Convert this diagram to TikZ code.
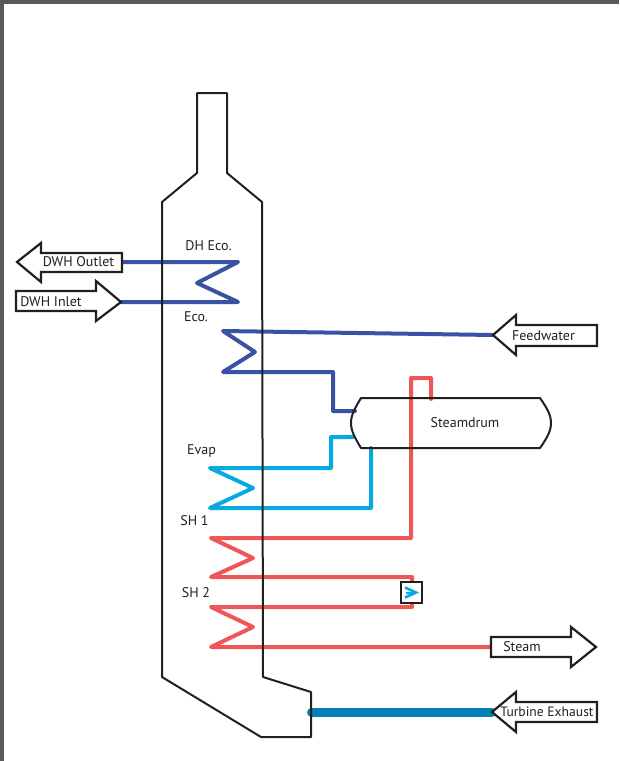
\documentclass[tikz,border=0pt]{standalone}
\usepackage{fontspec}
\setmainfont{PT Sans}
\definecolor{inkk}{HTML}{231F20}
\definecolor{frameg}{HTML}{58595B}
\definecolor{coilblue}{HTML}{3953A4}
\definecolor{coilcyan}{HTML}{06A9E2}
\definecolor{coilred}{HTML}{EF5656}
\definecolor{exhaust}{HTML}{0580B5}
\tikzset{
  shell/.style={draw=inkk,line width=2pt,line join=round,line cap=round},
  port/.style={draw=inkk,fill=white,line width=2.2pt,line join=miter},
  pipe/.style={line width=4pt,line join=round,line cap=round},
  bluepipe/.style={pipe,draw=coilblue},
  cyanpipe/.style={pipe,draw=coilcyan},
  redpipe/.style={pipe,draw=coilred},
  lbl/.style={inner sep=0pt,text=inkk,font=\fontsize{14}{16}\selectfont}
}
\begin{document}
\begin{tikzpicture}[x=1pt,y=-1pt]
\useasboundingbox (0,0) rectangle (619,761);
\fill[frameg] (0,0) rectangle (619,4);
\fill[frameg] (0,0) rectangle (3.6,761);
% connector ends
\coordinate (outletEnd) at (122,262);
\coordinate (inletEnd) at (121,302);
\coordinate (feedEnd) at (493,335);
\coordinate (steamEnd) at (491,647);
\coordinate (exhaustEnd) at (492,712);
\coordinate (exhaustStart) at (311.5,712);
\coordinate (drumEco) at (355,411);
\coordinate (drumEvapA) at (353,437);
\coordinate (drumEvapB) at (371,448);
\coordinate (drumSteam) at (431,399);
% pipes
\draw[bluepipe] (outletEnd) -- (238,262) -- (197,283) -- (238,302) -- (inletEnd);
\draw[bluepipe] (feedEnd) -- (223,331) -- (255,352) -- (223,372) -- (333,372) -- (333,411) -- (drumEco);
\draw[cyanpipe] (drumEvapA) -- (331,437) -- (331,468) -- (210,468) -- (253,488) -- (210,508) -- (371,508) -- (drumEvapB);
\draw[redpipe] (drumSteam) -- (431,378) -- (411,378) -- (411,538) -- (211,538) -- (253,558) -- (211,577) -- (412,577) -- (412,607) -- (211,607) -- (253,627) -- (211,647) -- (steamEnd);
\draw[line width=9pt,draw=exhaust,line cap=round] (exhaustStart) -- (exhaustEnd);
% stack
\draw[shell] (197,173) -- (197,93) -- (227,93) -- (227,173) -- (262,202) -- (263,677) -- (311,692) -- (311,737) -- (261,737) -- (162,677) -- (162,202) -- cycle;
% drum
\draw[shell] (361,398) -- (540,398) .. controls (547,408) and (551,415) .. (551,423) .. controls (551,431) and (547,438) .. (540,448) -- (361,448) .. controls (355,438) and (351,431) .. (351,423) .. controls (351,415) and (355,408) .. (361,398) -- cycle;
% port arrows
\draw[port] (17,262) -- (41,243) -- (41,253) -- (122,253) -- (122,272) -- (41,272) -- (41,282) -- cycle;
\draw[port] (16,291) -- (96,291) -- (96,281) -- (121,302) -- (96,321) -- (96,311) -- (16,311) -- cycle;
\draw[port] (493,335) -- (516,315) -- (516,325) -- (597,325) -- (597,346) -- (516,346) -- (516,355) -- cycle;
\draw[port] (491,637) -- (571,637) -- (571,627) -- (596,647) -- (571,667) -- (571,657) -- (491,657) -- cycle;
\draw[port] (492,712) -- (516,692) -- (516,702) -- (597,702) -- (597,722) -- (516,722) -- (516,732) -- cycle;
% valve box
\draw[port] (401,582) rectangle (422,603);
\draw[draw=coilcyan,line width=2.6pt,line join=miter] (405,587.5) -- (416,592.5) -- (405,597.5);
\draw[draw=coilcyan,line width=2pt] (406,592.5) -- (416,592.5);
% labels
\node[lbl] (tDHE) at (208.5,245.5) {DH Eco.};
\node[lbl] (tEco) at (196,317) {Eco.};
\node[lbl] (tEvap) at (201.5,451) {Evap};
\node[lbl] (tSHa) at (194.5,521) {SH 1};
\node[lbl] (tSHb) at (196,592.5) {SH 2};
\node[lbl] (tOut) at (78.5,262) {DWH Outlet};
\node[lbl] (tIn) at (51,302) {DWH Inlet};
\node[lbl] (tFeed) at (543.5,335.5) {Feedwater};
\node[lbl] (tDrum) at (465,422.5) {Steamdrum};
\node[lbl] (tSteam) at (522,646.5) {Steam};
\node[lbl,font=\fontsize{13.6}{16}\selectfont] (tTurb) at (547,712) {Turbine Exhaust};
\end{tikzpicture}
\end{document}
